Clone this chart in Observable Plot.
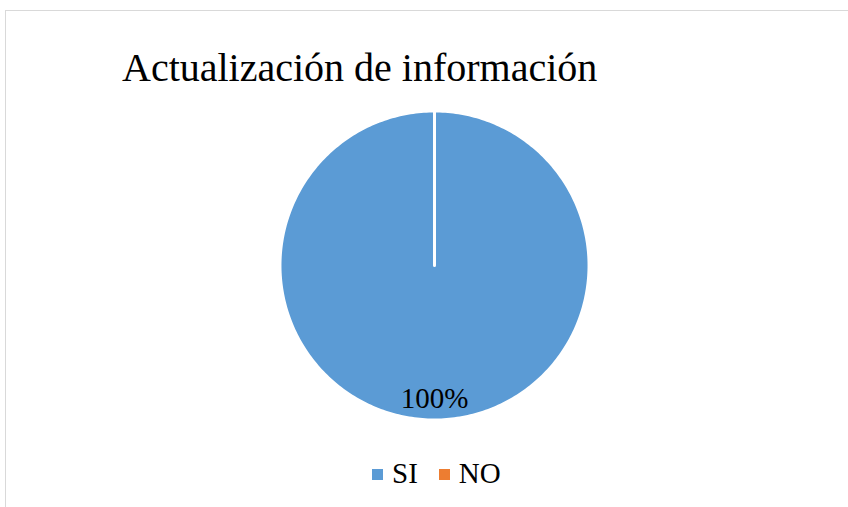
<!DOCTYPE html>
<html>
<head>
<meta charset="utf-8">
<script src="https://cdn.jsdelivr.net/npm/d3@7"></script>
<script src="https://cdn.jsdelivr.net/npm/@observablehq/plot@0.6"></script>
</head>
<body style="margin:0;padding:0;background:#fff;overflow:hidden">
<div id="frame" style="position:absolute;left:5px;top:10px;width:900px;height:600px;border:1px solid #d9d9d9;box-sizing:border-box"></div>
<div id="title" class="serif" style="position:absolute;left:122px;top:48px;white-space:nowrap;color:#000;font-family:'Liberation Serif', 'Times New Roman', Tinos, serif;font-size:40px;line-height:40px"></div>
<div id="chart" style="position:absolute;left:0;top:100px"></div>
<div id="legend" class="serif" style="position:absolute;left:372px;top:459px;display:flex;align-items:center;white-space:nowrap;color:#000;font-family:'Liberation Serif', 'Times New Roman', Tinos, serif;font-size:29px;line-height:29px"></div>
<script>
const title = "Actualización de información";
const categories = ["SI", "NO"];
const values = [100, 0];
const colors = ["#5B9BD5", "#ED7D31"];

const serif = "'Liberation Serif', 'Times New Roman', Tinos, serif";

const data = categories.map((c, i) => ({category: c, value: values[i]}));
const total = d3.sum(values);
const arcs = d3.pie().sort(null).value(d => d.value)(data);

// polygon points for each non-empty slice (angle 0 at 12 o'clock, clockwise)
const R = 1.01;
const pts = [];
for (const a of arcs) {
  if (a.endAngle - a.startAngle <= 0) continue;
  const n = Math.max(2, Math.ceil((a.endAngle - a.startAngle) / (Math.PI / 180)));
  pts.push({category: a.data.category, x: 0, y: 0});
  for (let k = 0; k <= n; k++) {
    const t = a.startAngle + (a.endAngle - a.startAngle) * k / n;
    pts.push({category: a.data.category, x: R * Math.sin(t), y: R * Math.cos(t)});
  }
  pts.push({category: a.data.category, x: 0, y: 0});
}

const labels = arcs.filter(a => a.value > 0).map(a => {
  const m = (a.startAngle + a.endAngle) / 2;
  return {x: 0.87 * Math.sin(m), y: 0.87 * Math.cos(m), text: d3.format(".0%")(a.value / total)};
});

const plot = Plot.plot({
  width: 848,
  height: 330,
  margin: 0,
  x: {domain: [-1, 1], range: [281, 587], axis: null},
  y: {domain: [-1, 1], range: [318, 12], axis: null},
  color: {domain: categories, range: colors},
  style: {background: "transparent", overflow: "visible"},
  marks: [
    Plot.line(pts, {x: "x", y: "y", z: "category", fill: "category", stroke: "white", strokeWidth: 3, strokeLinejoin: "round", strokeLinecap: "round", curve: "linear"}),
    Plot.text(labels, {x: "x", y: "y", text: "text", fontSize: 29, fontFamily: serif, fill: "#000", textAnchor: "middle"})
  ]
});
plot.querySelectorAll("text").forEach(el => {
  el.classList.add("serif");
  el.setAttribute("style", "font-family:" + serif + ";font-size:29px");
});
document.getElementById("chart").appendChild(plot);

document.getElementById("title").textContent = title;

const legend = document.getElementById("legend");
categories.forEach((c, i) => {
  const item = document.createElement("div");
  item.setAttribute("style", "display:flex;align-items:center;margin-right:21px");
  const sw = document.createElement("div");
  sw.setAttribute("style", `width:11px;height:11px;margin-right:9px;margin-top:2px;background:${colors[i]}`);
  const lab = document.createElement("span");
  lab.className = "serif";
  lab.setAttribute("style", "font-family:" + serif + ";font-size:29px;line-height:29px");
  lab.textContent = c;
  item.appendChild(sw);
  item.appendChild(lab);
  legend.appendChild(item);
});

// re-apply the serif family once fonts are available
function reapply() {
  document.querySelectorAll(".serif").forEach(el => {
    el.style.fontFamily = "monospace";
    void el.getBoundingClientRect();
    el.style.fontFamily = serif;
  });
}
if (document.fonts && document.fonts.ready) {
  document.fonts.ready.then(reapply).catch(() => {});
}
window.addEventListener("load", reapply);
</script>
</body>
</html>
